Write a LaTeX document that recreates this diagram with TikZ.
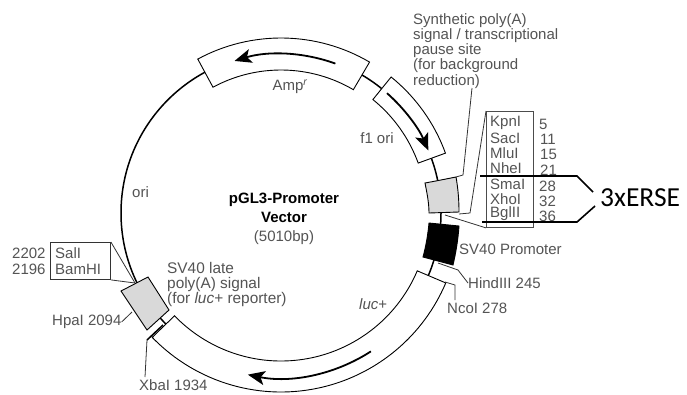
\documentclass[tikz,border=0pt]{standalone}
\usepackage{fontspec}
\setmainfont{Liberation Sans}
\newfontfamily\erse{Carlito}
\usetikzlibrary{arrows.meta}
\definecolor{txt}{gray}{0.33}
\definecolor{boxgray}{gray}{0.85}
\newcommand{\arcband}[4]{\draw[band] ([shift={(c)}]#1:#4) arc[start angle=#1,end angle=#2,radius=#4] -- ([shift={(c)}]#2:#3) arc[start angle=#2,end angle=#1,radius=#3] -- cycle;}
\newcommand{\arcarrow}[3]{\draw[heavy] ([shift={(c)}]#1:#3) arc[start angle=#1,end angle=#2,radius=#3];}
\tikzset{x=1pt,y=1pt,
 lbl/.style={inner sep=0pt,anchor=west,text=txt,font=\fontsize{15}{15.3}\selectfont},
 clbl/.style={lbl,anchor=center},
 band/.style={draw=black,line width=0.9pt,fill=white},
 ringline/.style={draw=black,line width=1.5pt},
 leader/.style={draw=black!80,line width=0.8pt},
 boxline/.style={draw=black!70,line width=0.9pt},
 heavy/.style={line width=1.8pt,-{Stealth[length=17pt,width=14pt,inset=4pt]}},
 ersel/.style={draw=black,line width=1.6pt}}
\begin{document}
\begin{tikzpicture}
\useasboundingbox[fill=white] (0,0) rectangle (687,-394);
\coordinate (c) at (281,-213);
\draw[ringline] (c) circle[radius=160];
% feature bands
\arcband{59.6}{118.4}{143}{175}
\arcband{20}{51}{146}{175}
\arcband{224}{337}{148}{179}
\arcarrow{70}{107}{159}
\arcarrow{48.5}{23}{160}
\arcarrow{-57}{-101.6}{165}
% promoter and poly(A) boxes
\draw[band,fill=boxgray] (425,-183) .. controls (436,-181) and (446,-179) .. (456,-177) .. controls (458,-188) and (459,-200) .. (459,-212) -- (429,-213) .. controls (429,-203) and (427,-193) .. (425,-183) -- cycle;
\draw[band,fill=black] (429,-223) -- (459,-226) .. controls (458,-240) and (456,-252) .. (453,-265) -- (423,-257) .. controls (426,-246) and (428,-234) .. (429,-223) -- cycle;
\draw[band,fill=boxgray] (121,-291) -- (148,-277) -- (169,-310) -- (147,-330) -- cycle;
% XbaI tick and stub
\coordinate (xb1) at (147,-340);
\coordinate (xb2) at (163,-325);
\coordinate (xb3) at (145,-377);
\draw[black,line width=1.5pt] (xb1) -- (xb2);
\draw[leader] (xb1) -- (xb3);
% SalI / BamHI box
\node[draw=black!80,line width=0.9pt,minimum width=60pt,minimum height=37pt,inner sep=0pt,anchor=north west] (salbox) at (50,-242) {};
\coordinate (saltip) at (135,-283);
\draw[leader] (salbox.north east) -- (saltip);
\draw[leader] (salbox.south east) -- (saltip);
% MCS box
\node[boxline,minimum width=47pt,minimum height=116pt,inner sep=0pt,anchor=north west] (mcs) at (486,-111) {};
\coordinate (mcsa) at (470,-213);
\coordinate (mcsb) at (459,-214);
\coordinate (mcsc) at (445,-215);
\draw[leader] (mcs.north west) -- (mcsa) -- (mcsb);
\draw[leader] (mcsc) -- (mcs.south west);
% Labels
\node[font=\fontsize{15}{15.3}\selectfont,text=txt,align=left,inner sep=0pt,anchor=north west] (syn) at (413,-13) {Synthetic poly(A)\\signal / transcriptional\\pause site\\(for background\\reduction)};
\coordinate (syna) at (472,-88);
\coordinate (synb) at (463,-175);
\coordinate (synd) at (456,-177);
\draw[leader] (syna) -- (synb) -- (synd);
\node[lbl] (k1) at (490,-123) {KpnI};
\node[lbl] (k2) at (490,-138) {SacI};
\node[lbl] (k3) at (490,-153) {MluI};
\node[lbl] (k4) at (490,-168) {NheI};
\node[lbl] (k5) at (490,-184) {SmaI};
\node[lbl] (k6) at (490,-199) {XhoI};
\node[lbl] (k7) at (490,-214) {BglII};
\node[lbl] (n1) at (539,-124) {5};
\node[lbl] (n2) at (540,-139) {11};
\node[lbl] (n3) at (540,-154) {15};
\node[lbl] (n4) at (540,-170) {21};
\node[lbl] (n5) at (539,-186) {28};
\node[lbl] (n6) at (539,-201) {32};
\node[lbl] (n7) at (539,-216) {36};
\node[clbl] (amp) at (290,-87) {Amp\textsuperscript{\itshape r}};
\node[clbl] (f1) at (377,-138) {f1 ori};
\node[lbl] (ori) at (132,-192) {ori};
\node[clbl,text=black,font=\fontsize{15}{15}\bfseries\selectfont] (title1) at (284,-200) {pGL3-Promoter};
\node[clbl,text=black,font=\fontsize{15}{15}\bfseries\selectfont] (title2) at (284,-217) {Vector};
\node[clbl] (size) at (284,-238) {(5010bp)};
\node[lbl] (sv) at (459,-249) {SV40 Promoter};
\node[lbl] (hind) at (468,-283) {HindIII 245};
\node[lbl] (nco) at (447,-308) {NcoI 278};
\coordinate (ha) at (438,-263);
\coordinate (hb) at (458,-270);
\draw[leader] (ha) -- (hb) -- (hind.west);
\coordinate (na) at (445,-282);
\coordinate (nb) at (455,-285);
\coordinate (nc) at (455,-300);
\draw[leader] (na) -- (nb) -- (nc);
\node[lbl] (luc) at (359,-304) {\textit{luc}+};
\node[lbl] (n2202) at (12,-253) {2202};
\node[lbl] (n2196) at (12,-269) {2196};
\node[lbl] (sal) at (55,-253) {SalI};
\node[lbl] (bam) at (55,-269) {BamHI};
\node[font=\fontsize{15.4}{15.3}\selectfont,text=txt,align=left,inner sep=0pt,anchor=north west] (late) at (167,-262) {SV40 late\\poly(A) signal\\(for \textit{luc}+ reporter)};
\node[lbl] (hpa) at (52,-322) {HpaI 2094};
\coordinate (hpb) at (132,-312);
\draw[leader] (hpa.east) -- (hpb);
\node[lbl] (xba) at (139,-385) {XbaI 1934};
% 3xERSE bracket
\node[inner sep=0pt,anchor=west,font=\erse\fontsize{27.5}{30}\selectfont] (ers) at (600,-198) {3xERSE};
\coordinate (e1) at (480,-176);
\coordinate (e2) at (577,-176);
\coordinate (e3) at (593,-192);
\coordinate (e4) at (482,-222);
\coordinate (e5) at (577,-222);
\coordinate (e6) at (595,-206);
\draw[ersel] (e1) -- (e2) -- (e3);
\draw[ersel] (e4) -- (e5) -- (e6);
\end{tikzpicture}
\end{document}
